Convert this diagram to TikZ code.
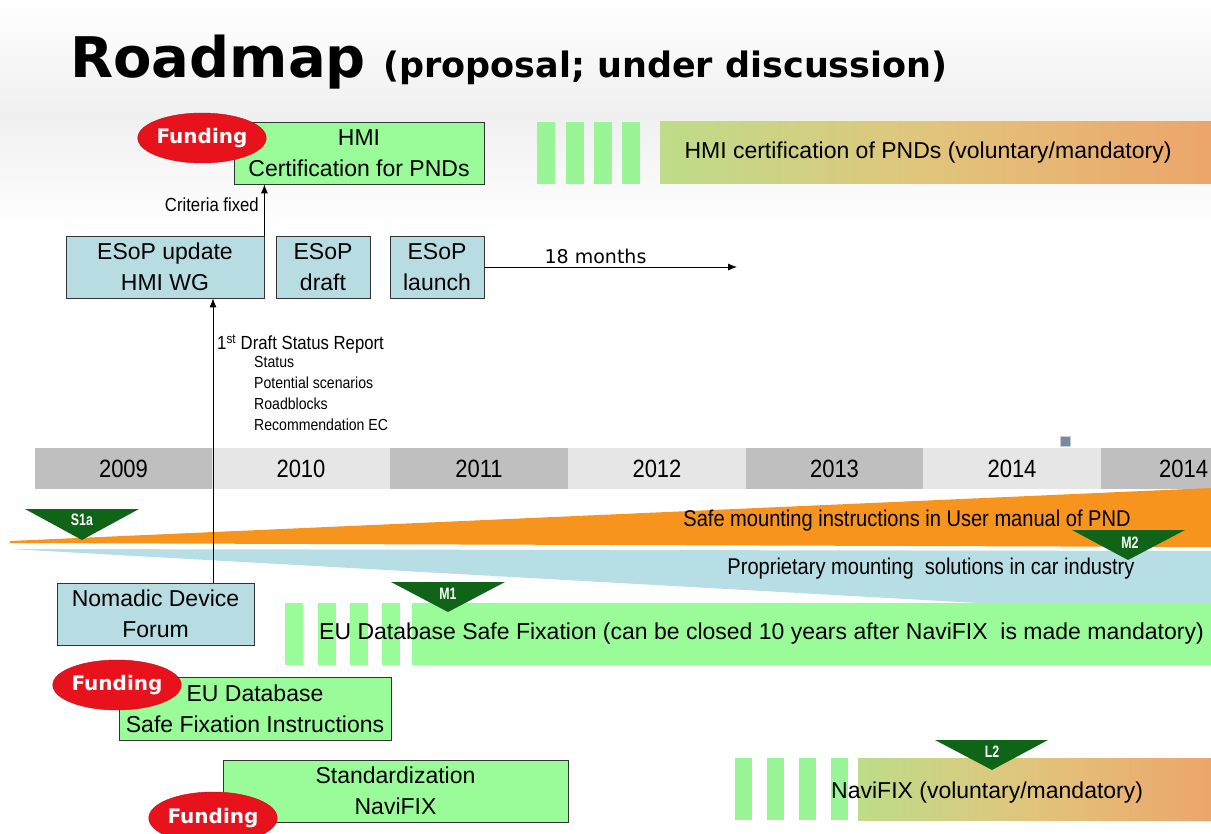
\documentclass[tikz,border=0pt]{standalone}
\usepackage{fontspec}
\setmainfont{Liberation Sans}
\newfontfamily\dejavu{DejaVu Sans}
\newfontfamily\narrowfam{Liberation Sans}[FakeStretch=0.88]
\newfontfamily\condfam{Liberation Sans}[FakeStretch=0.75]
\usetikzlibrary{shapes.geometric,arrows.meta,calc}
\definecolor{boxgreen}{RGB}{153,252,153}
\definecolor{stripegreen}{RGB}{153,245,150}
\definecolor{boxblue}{RGB}{183,221,227}
\definecolor{wedgeblue}{RGB}{183,222,228}
\definecolor{wedgeorange}{RGB}{247,148,29}
\definecolor{fundred}{RGB}{232,18,28}
\definecolor{msgreen}{RGB}{16,100,24}
\definecolor{ydark}{RGB}{191,191,191}
\definecolor{ylight}{RGB}{230,230,230}
\definecolor{gstart}{RGB}{153,245,150}
\definecolor{gmid}{RGB}{226,196,124}
\definecolor{gend}{RGB}{246,134,90}
\definecolor{iconfill}{RGB}{120,138,160}
\pgfdeclarehorizontalshading{gradgo}{100bp}{color(0bp)=(gstart); color(50bp)=(gmid); color(100bp)=(gend)}
\tikzset{
  greenbox/.style={draw=black!80, line width=0.8pt, fill=boxgreen, minimum height=62, inner sep=0, align=center, font=\fontsize{23}{31}\selectfont},
  bluebox/.style={greenbox, fill=boxblue},
  fund/.style={ellipse, fill=fundred, draw=fundred!85!black, minimum width=102, minimum height=50, inner sep=0, text=white, font=\dejavu\bfseries\fontsize{20}{24}\selectfont},
  yearcell/.style={minimum width=178, minimum height=41, inner sep=0, font=\narrowfam\fontsize{25}{28}\selectfont},
  arr/.style={-{Latex[length=9pt,width=7pt]}, line width=0.8pt},
  mslabel/.style={text=white, inner sep=0, font=\condfam\bfseries\fontsize{16.5}{18}\selectfont},
  bartext/.style={inner sep=0, font=\fontsize{23}{27}\selectfont},
  wedgetext/.style={inner sep=0, font=\narrowfam\fontsize{22.8}{25}\selectfont},
}
\begin{document}
\begin{tikzpicture}[x=1pt,y=-1pt]
\useasboundingbox (0,0) rectangle (1211,834);
\fill[white] (0,0) rectangle (1211,834);
\shade[top color=white, bottom color=white, middle color=gray!12] (0,0) rectangle (1211,230);

% title
\node[anchor=base west, inner sep=0, font=\dejavu\bfseries\fontsize{56}{60}\selectfont] (title) at (70,78) {Roadmap};
\node[anchor=base west, inner sep=0, font=\dejavu\bfseries\fontsize{35}{40}\selectfont] (subtitle) at (383,78) {(proposal; under discussion)};

% HMI certification row
\node[greenbox, minimum width=250] (hmi) at (359,153) {HMI\\Certification for PNDs};
\node[fund] (f1) at (202,138) {Funding};
\foreach \x in {537,566,594,622} \fill[stripegreen] (\x,122) rectangle ++(18,62);
\shade[shading=gradgo] (660,122) rectangle (1211,184);
\node[bartext] (hmibar) at (928,153) {HMI certification of PNDs (voluntary/mandatory)};

% ESoP row
\node[bluebox, minimum width=198] (esop1) at (165,267) {ESoP update\\HMI WG};
\node[bluebox, minimum width=94] (esop2) at (323,267) {ESoP\\draft};
\node[bluebox, minimum width=94] (esop3) at (437,267) {ESoP\\launch};
\draw[arr] (esop1.north east) -- (esop1.north east |- hmi.south);
\node[anchor=east, inner sep=0, font=\narrowfam\fontsize{19}{22}\selectfont] (crit) at (259,205) {Criteria fixed};
\coordinate (m18) at (737,267);
\draw[arr] (esop3.east) -- (m18) node[pos=0.44, above, inner sep=3pt, font=\dejavu\fontsize{19}{22}\selectfont] (months) {18 months};

% status report
\node[anchor=west, inner sep=0, font=\narrowfam\fontsize{19}{22}\selectfont] (report) at (217,344) {1\textsuperscript{st} Draft Status Report};
\node[anchor=north west, inner sep=0, align=left, font=\narrowfam\fontsize{16}{21}\selectfont] (items) at (254,356) {Status\\Potential scenarios\\Roadblocks\\Recommendation EC};

% year bar
\node[yearcell, fill=ydark, minimum width=177] (y2009) at (123.5,468.5) {2009};
\node[yearcell, fill=ylight] (y2010) at (301,468.5) {2010};
\node[yearcell, fill=ydark] (y2011) at (479,468.5) {2011};
\node[yearcell, fill=ylight] (y2012) at (657,468.5) {2012};
\node[yearcell, fill=ydark, minimum width=177] (y2013) at (834.5,468.5) {2013};
\node[yearcell, fill=ylight] (y2014) at (1012,468.5) {2014};
\node[yearcell, fill=ydark, minimum width=110, text width=104, align=right] (y2015) at (1156,468.5) {2014};
\filldraw[fill=iconfill, draw=gray!40, line width=1pt] (1060,436) rectangle (1070,446);

% wedges
\fill[wedgeorange] (10,541) -- (1211,488) -- (1211,547) -- (10,543) -- cycle;
\fill[wedgeblue] (10,549) -- (1211,551) -- (1211,616) -- cycle;

% EU database bar
\foreach \x in {285,318,350,382} \fill[boxgreen] (\x,603) rectangle ++(18,62);
\fill[boxgreen] (412,603) rectangle (1211,665);
\node[bartext, anchor=west] (eubar) at (319,634) {EU Database Safe Fixation (can be closed 10 years after NaviFIX~ is made mandatory)};

% NaviFIX bar
\foreach \x in {735,767,799,831} \fill[stripegreen] (\x,758) rectangle ++(17,62);
\shade[shading=gradgo] (858,758) rectangle (1211,820);
\node[bartext, anchor=west] (navibar) at (831,793) {NaviFIX (voluntary/mandatory)};

% milestones
\fill[msgreen] (25,509) -- (139,509) -- (82,540) -- cycle;
\node[mslabel] (s1a) at (82,520) {S1a};
\fill[msgreen] (1072,530) -- (1185,530) -- (1128,560) -- cycle;
\node[mslabel] (m2) at (1130,543) {M2};
\fill[msgreen] (391,582) -- (505,582) -- (448,612) -- cycle;
\node[mslabel] (m1) at (448,594) {M1};
\fill[msgreen] (935,740) -- (1048,740) -- (992,770) -- cycle;
\node[mslabel] (l2) at (992,752) {L2};

% wedge texts (above milestones)
\node[wedgetext] (safe) at (907,521) {Safe mounting instructions in User manual of PND};
\node[wedgetext] (prop) at (931,569) {Proprietary mounting~ solutions in car industry};

% lower boxes
\node[bluebox, minimum width=197] (ndf) at (155.5,614) {Nomadic Device\\Forum};
\node[greenbox, minimum width=272, minimum height=63] (eudb) at (255,708.5) {EU Database\\Safe Fixation Instructions};
\node[fund] (f2) at (117,685) {Funding};
\node[greenbox, minimum width=345] (std) at (395.5,791) {Standardization\\NaviFIX};
\node[fund, minimum height=52] (f3) at (213,818) {Funding};

% status arrow
\draw[arr] ([xshift=57.5pt]ndf.north) -- ([xshift=57.5pt]ndf.north |- esop1.south);
\end{tikzpicture}
\end{document}
